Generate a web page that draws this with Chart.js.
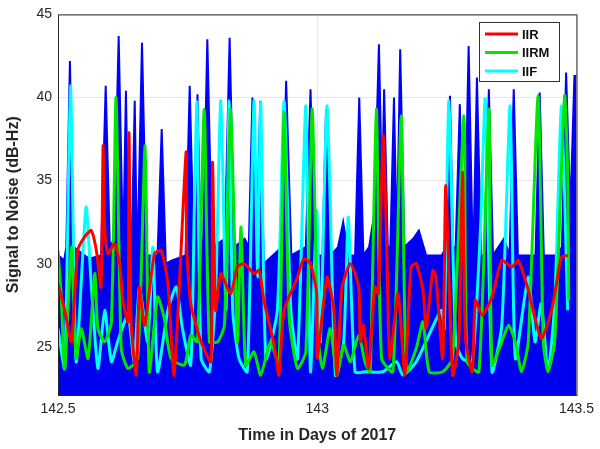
<!DOCTYPE html>
<html><head><meta charset="utf-8">
<script src="https://cdn.jsdelivr.net/npm/chart.js@4"></script>
<style>body{margin:0;background:#fff}</style>
</head><body>
<canvas id="c" width="600" height="449"></canvas>
<script>
// Upper envelope of the dense blue raw SNR scatter [day, dB-Hz]
const rawEnvelope = [[142.500,30.5],[142.512,30.2],[142.516,31],[142.523,42.2],[142.530,31],[142.560,30.3],[142.583,30.5],[142.592,40.7],[142.600,31],[142.608,31.5],[142.617,43.7],[142.624,33],[142.627,33],[142.631,40.4],[142.636,31],[142.642,31],[142.648,39.8],[142.652,31],[142.654,31.5],[142.662,43.3],[142.671,30.5],[142.692,30.5],[142.700,38.1],[142.708,30],[142.720,30.2],[142.746,30.5],[142.754,40.7],[142.761,32],[142.764,32],[142.769,40.2],[142.775,31],[142.780,31.5],[142.788,43.5],[142.797,31],[142.822,31.5],[142.831,43.6],[142.840,31],[142.860,31.5],[142.868,31],[142.875,40.0],[142.881,32],[142.884,32],[142.890,39.8],[142.897,30],[142.932,31],[142.940,41.0],[142.950,30.5],[142.978,31],[142.987,40.5],[142.996,30.5],[143.010,30.5],[143.017,39.3],[143.026,30.5],[143.040,31],[143.050,32.5],[143.060,30.5],[143.073,30.5],[143.081,40.0],[143.089,30.5],[143.100,31],[143.110,33],[143.119,43.2],[143.125,34],[143.129,40.5],[143.136,31],[143.141,31],[143.148,40.0],[143.153,32],[143.154,32],[143.160,42.9],[143.168,31],[143.185,31.5],[143.196,32.0],[143.210,30.5],[143.240,30.5],[143.249,31],[143.256,40.1],[143.262,31],[143.267,31],[143.275,39.6],[143.281,31],[143.284,31],[143.292,43.1],[143.299,32],[143.302,32],[143.308,41.2],[143.316,30.5],[143.323,30.5],[143.331,40.5],[143.339,30.5],[143.360,31.5],[143.371,30.5],[143.379,40.5],[143.387,30.5],[143.421,30.5],[143.429,40.3],[143.437,30.5],[143.460,30.5],[143.472,31],[143.480,41.5],[143.488,33],[143.496,41.3],[143.500,41.3]];

const iirX = [142.500,142.513,142.526,142.538,142.551,142.564,142.574,142.583,142.587,142.590,142.596,142.609,142.619,142.625,142.635,142.637,142.641,142.651,142.657,142.667,142.686,142.699,142.712,142.724,142.747,142.748,142.756,142.776,142.795,142.798,142.804,142.814,142.833,142.846,142.859,142.878,142.888,142.897,142.917,142.926,142.936,142.962,142.974,142.987,142.999,
  143.000,143.019,143.032,143.038,143.048,143.064,143.080,143.083,143.089,143.099,143.111,143.118,143.127,143.134,143.140,143.156,143.169,143.181,143.191,143.204,143.210,143.223,143.229,143.242,143.248,143.261,143.273,143.280,143.286,143.299,143.305,143.318,143.337,143.356,143.375,143.388,143.407,143.432,143.452,143.471,143.483];
const iirY = [28.8,27.2,25.3,30.8,31.6,32.0,30.8,28.6,37.1,32.2,30.6,31.2,30.0,27.8,26.5,37.9,26.5,23.3,28.6,26.3,30.6,30.8,28.8,23.3,36.7,31.2,27.6,25.3,24.1,36.1,27.2,29.4,28.2,29.8,30.0,29.4,29.6,27.8,25.1,23.3,27.2,29.2,30.3,30.0,28.2,
  24.3,29.2,27.2,23.3,28.6,30.0,28.6,25.3,26.3,23.7,28.6,28.2,37.7,31.2,24.3,28.2,23.3,29.8,30.0,28.4,26.1,29.6,29.2,24.3,34.7,23.3,25.3,35.5,25.5,23.5,27.8,26.9,28.0,30.2,29.8,30.2,28.4,25.5,27.2,30.4,30.5];

const iirmX = [142.500,142.506,142.513,142.526,142.535,142.545,142.558,142.571,142.577,142.590,142.603,142.612,142.622,142.635,142.654,142.668,142.676,142.692,142.705,142.718,142.744,142.756,142.769,142.782,142.792,142.808,142.821,142.833,142.846,142.853,142.862,142.878,142.891,142.910,142.926,142.936,142.946,142.962,142.978,142.990,142.997,
  143.000,143.010,143.025,143.038,143.051,143.064,143.080,143.092,143.102,143.114,143.124,143.146,143.162,143.172,143.191,143.204,143.216,143.242,143.261,143.283,143.289,143.312,143.331,143.337,143.356,143.369,143.382,143.394,143.407,143.426,143.436,143.445,143.458,143.477,143.483,143.485];
const iirmY = [30.8,28.2,23.7,31.0,24.3,26.1,24.3,29.4,26.1,25.3,26.5,40.0,24.9,23.7,24.3,37.1,23.5,28.0,26.7,24.3,23.9,25.7,25.3,39.3,25.3,25.3,26.3,39.3,25.3,32.2,23.9,24.7,23.3,25.3,23.9,39.1,26.7,23.7,24.7,39.3,31.2,
  26.1,23.7,26.1,23.3,25.1,24.1,25.7,24.1,23.5,39.3,24.3,23.5,38.9,23.5,24.9,26.5,23.5,23.5,24.3,38.9,24.1,23.5,39.3,23.9,25.3,26.3,25.3,23.5,25.3,40.1,25.3,23.5,25.3,40.1,35.5,27.8];

const iifX = [142.500,142.513,142.524,142.535,142.554,142.564,142.577,142.590,142.603,142.615,142.635,142.647,142.657,142.673,142.683,142.692,142.712,142.728,142.740,142.756,142.763,142.768,142.776,142.792,142.804,142.814,142.824,142.830,142.837,142.849,142.865,142.878,142.885,142.891,142.901,142.923,142.936,142.949,142.962,142.978,142.987,142.999,
  143.006,143.019,143.035,143.051,143.060,143.073,143.095,143.127,143.153,143.165,143.191,143.239,143.245,143.254,143.267,143.280,143.299,143.315,143.324,143.337,143.356,143.372,143.382,143.407,143.420,143.432,143.445,143.458,143.471,143.483];
const iifY = [26.1,23.7,40.7,24.1,33.4,28.8,23.7,27.2,24.1,25.3,26.9,24.1,28.6,25.3,31.0,23.5,27.2,28.6,26.1,23.9,33.4,39.7,24.3,23.5,28.2,39.8,27.2,39.8,27.2,24.3,23.5,39.8,29.2,39.7,24.3,27.2,39.8,27.2,24.3,39.5,23.5,33.2,
  25.3,39.5,23.3,25.3,32.8,23.5,23.5,23.5,24.1,23.3,24.1,27.2,26.1,39.8,25.3,24.3,24.1,32.2,39.9,23.5,26.3,39.5,24.3,29.2,25.3,27.6,23.5,27.6,39.5,27.2];

const xTicks = [142.5, 143, 143.5];
const yTicks = [25, 30, 35, 40, 45];

const pts = (xs, ys) => xs.map((x, i) => ({x, y: ys[i]}));
const seriesNames = ['IIR', 'IIRM', 'IIF'];
const seriesColors = ['#ff0000', '#00e600', '#00ffff'];

const frame = {
  id: 'frame',
  afterDraw(chart) {
    const {ctx, chartArea: a} = chart;
    ctx.save();
    ctx.strokeStyle = '#262626'; ctx.lineWidth = 1;
    ctx.strokeRect(a.left + 0.5, a.top + 0.5, a.right - a.left, a.bottom - a.top);
    // legend box
    const lx = 479, ly = 22, lw = 80, lh = 59;
    ctx.fillStyle = '#fff'; ctx.fillRect(lx, ly, lw, lh);
    ctx.strokeStyle = '#333'; ctx.strokeRect(lx + 0.5, ly + 0.5, lw, lh);
    ctx.font = 'bold 13px "Liberation Sans", Arial, sans-serif';
    ctx.textBaseline = 'middle';
    seriesNames.forEach((n, i) => {
      const y = ly + 12 + i * 18.5;
      ctx.strokeStyle = seriesColors[i]; ctx.lineWidth = 3;
      ctx.beginPath(); ctx.moveTo(lx + 6, y); ctx.lineTo(lx + 39, y); ctx.stroke();
      ctx.fillStyle = '#111'; ctx.fillText(n, lx + 43, y + 1);
    });
    ctx.restore();
  }
};

const lineDs = (label, data, color) => ({
  label, data, borderColor: color, borderWidth: 3, pointRadius: 0, tension: 0.2, fill: false, order: 1
});

new Chart(document.getElementById('c'), {
  type: 'line',
  data: {
    datasets: [
      {label: 'raw', data: rawEnvelope.map(p => ({x: p[0], y: p[1]})), borderColor: '#0000ff', borderWidth: 2,
       backgroundColor: '#0000f0', pointRadius: 0, fill: 'start', tension: 0, order: 10},
      lineDs('IIR', pts(iirX, iirY), seriesColors[0]),
      lineDs('IIRM', pts(iirmX, iirmY), seriesColors[1]),
      lineDs('IIF', pts(iifX, iifY), seriesColors[2])
    ]
  },
  options: {
    responsive: false, animation: false,
    layout: {padding: {top: 10, right: 22, left: 0, bottom: 0}},
    plugins: {legend: {display: false}, tooltip: {enabled: false}},
    scales: {
      x: {
        type: 'linear', min: 142.5, max: 143.5,
        afterBuildTicks: s => { s.ticks = xTicks.map(v => ({value: v})); },
        afterFit: s => { s.height = 54; },
        grid: {color: '#e6e6e6', drawTicks: false},
        border: {display: false},
        ticks: {color: '#262626', font: {size: 14, family: '"Liberation Sans", Arial'}, padding: 6, maxRotation: 0,
                callback: v => String(v)},
        title: {display: true, text: 'Time in Days of 2017', color: '#262626',
                font: {size: 16, weight: 'bold', family: '"Liberation Sans", Arial'}, padding: {top: 4}}
      },
      y: {
        min: 22.1, max: 45,
        afterBuildTicks: s => { s.ticks = yTicks.map(v => ({value: v})); },
        afterFit: s => { s.width = 58; },
        grid: {color: '#e6e6e6', drawTicks: false},
        border: {display: false},
        ticks: {color: '#262626', font: {size: 14, family: '"Liberation Sans", Arial'}, padding: 6},
        title: {display: true, text: 'Signal to Noise (dB-Hz)', color: '#262626',
                font: {size: 16, weight: 'bold', family: '"Liberation Sans", Arial'}, padding: {bottom: 2}}
      }
    }
  },
  plugins: [frame]
});
</script>
</body></html>
